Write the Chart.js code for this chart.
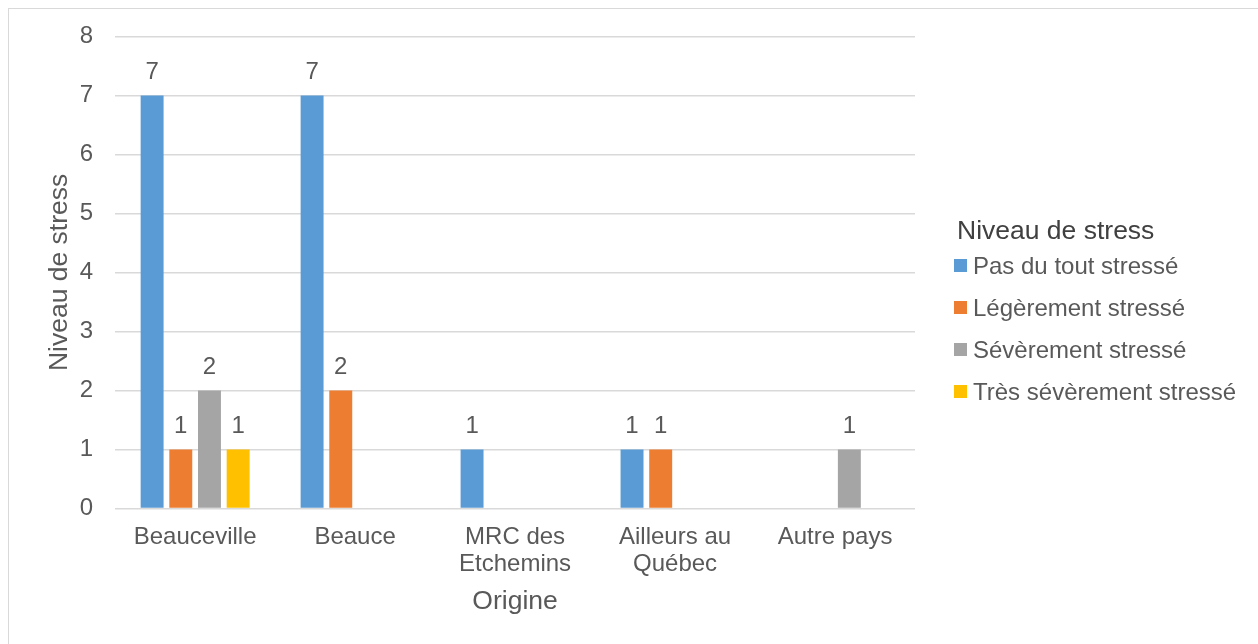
<!DOCTYPE html>
<html>
<head>
<meta charset="utf-8">
<script src="https://cdn.jsdelivr.net/npm/chart.js@4/dist/chart.umd.min.js"></script>
<style>
  body { margin: 0; background: #fff; overflow: hidden; }
  #frame { position: absolute; left: 8px; top: 8px; width: 1300px; height: 700px; border: 1px solid #d9d9d9; }
  #wrap { position: absolute; left: 0; top: 0; width: 1258px; height: 644px; }
</style>
</head>
<body>
<div id="frame"></div>
<div id="wrap"><canvas id="barChart" width="1258" height="644"></canvas></div>
<script>
var categories = ["Beauceville", "Beauce", ["MRC des", "Etchemins"], ["Ailleurs au", "Québec"], "Autre pays"];
var seriesNames = ["Pas du tout stressé", "Légèrement stressé", "Sévèrement stressé", "Très sévèrement stressé"];
var pasDuTout = [7, 7, 1, 1, null];
var legerement = [1, 2, null, 1, null];
var severement = [2, null, null, null, 1];
var tresSeverement = [1, null, null, null, null];
var colors = ["#5B9BD5", "#ED7D31", "#A5A5A5", "#FFC000"];
var yTicks = [0, 1, 2, 3, 4, 5, 6, 7, 8];
var legendTitle = "Niveau de stress";

var textColor = "#595959";
var fontFamily = "'Liberation Sans', Arial, sans-serif";

// draws the value above each bar
var valueLabels = {
  id: "valueLabels",
  afterDatasetsDraw: function (chart) {
    var ctx = chart.ctx;
    ctx.save();
    ctx.font = "24px " + fontFamily;
    ctx.fillStyle = textColor;
    ctx.textAlign = "center";
    ctx.textBaseline = "alphabetic";
    chart.data.datasets.forEach(function (ds, i) {
      var meta = chart.getDatasetMeta(i);
      meta.data.forEach(function (bar, j) {
        if (ds.data[j] === null) return;
        ctx.fillText(String(ds.data[j]), bar.x, bar.y - 16);
      });
    });
    ctx.restore();
  }
};

// legend on the right side, excel style (title + square + label)
var sideLegend = {
  id: "sideLegend",
  afterDraw: function (chart) {
    var ctx = chart.ctx;
    var x = chart.chartArea.right + 39;
    ctx.save();
    ctx.textAlign = "left";
    ctx.textBaseline = "alphabetic";
    ctx.fillStyle = "#404040";
    ctx.font = "26.5px " + fontFamily;
    ctx.fillText(legendTitle, x + 3, 239);
    ctx.font = "24px " + fontFamily;
    chart.data.datasets.forEach(function (ds, i) {
      var cy = 265 + i * 42;
      ctx.fillStyle = ds.backgroundColor;
      ctx.fillRect(x, cy - 6, 13, 13);
      ctx.fillStyle = textColor;
      ctx.fillText(ds.label, x + 19, cy + 8.6);
    });
    ctx.restore();
  }
};

var seriesData = [pasDuTout, legerement, severement, tresSeverement];

new Chart(document.getElementById("barChart").getContext("2d"), {
  type: "bar",
  data: {
    labels: categories,
    datasets: seriesNames.map(function (name, i) {
      return {
        label: name,
        data: seriesData[i],
        backgroundColor: colors[i],
        borderWidth: 0,
        categoryPercentage: 0.717,
        barPercentage: 0.8
      };
    })
  },
  options: {
    responsive: false,
    animation: false,
    layout: { padding: { top: 26, left: 40, right: 343, bottom: 22 } },
    scales: {
      x: {
        grid: { display: false, drawTicks: false },
        border: { display: false },
        ticks: {
          color: textColor,
          font: { family: fontFamily, size: 24, lineHeight: 1.1 },
          padding: 16,
          maxRotation: 0,
          autoSkip: false
        },
        title: {
          display: true,
          text: "Origine",
          color: textColor,
          font: { family: fontFamily, size: 26.5 },
          padding: { top: -7, bottom: 4 }
        }
      },
      y: {
        min: yTicks[0],
        max: yTicks[yTicks.length - 1],
        afterBuildTicks: function (scale) {
          scale.ticks = yTicks.map(function (v) { return { value: v }; });
        },
        grid: { color: "#d9d9d9", lineWidth: 1.5, drawTicks: false },
        border: { display: false },
        ticks: {
          color: textColor,
          font: { family: fontFamily, size: 24 },
          padding: 22
        },
        title: {
          display: true,
          text: "Niveau de stress",
          color: textColor,
          font: { family: fontFamily, size: 26.5 },
          padding: { top: 4, bottom: -18 }
        }
      }
    },
    plugins: {
      legend: { display: false },
      tooltip: { enabled: false }
    }
  },
  plugins: [valueLabels, sideLegend]
});
</script>
</body>
</html>
